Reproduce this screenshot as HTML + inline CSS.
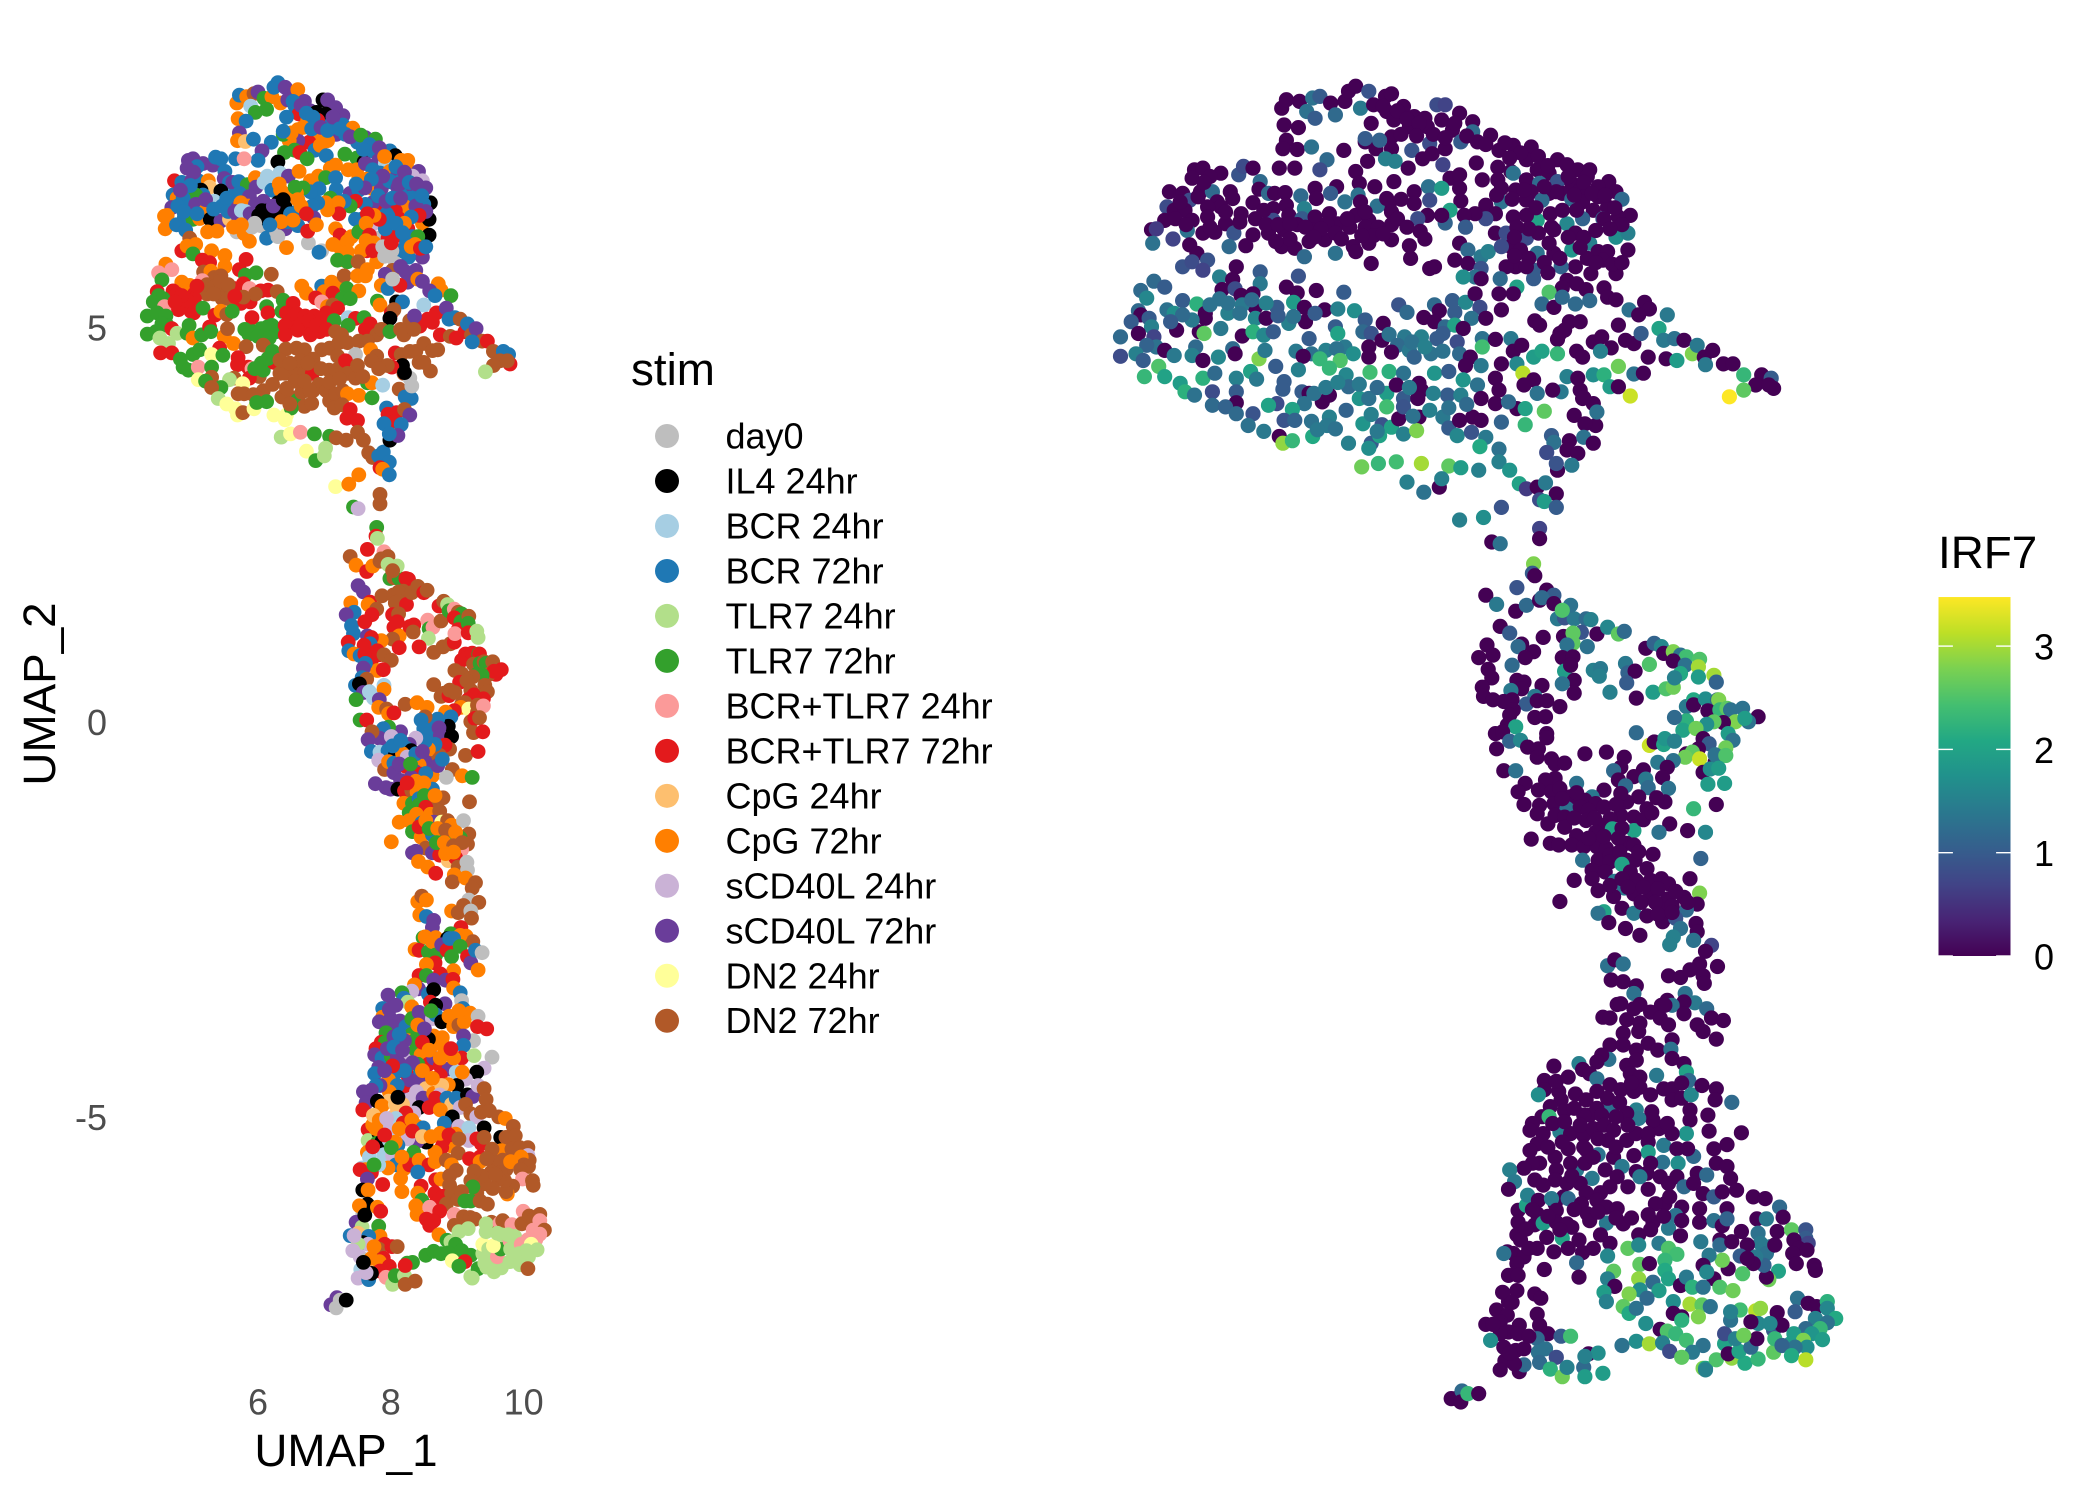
<!DOCTYPE html>
<html lang="en">
<head>
<meta charset="utf-8">
<title>UMAP by stim and IRF7</title>
<style>
html,body{margin:0;padding:0;background:#fff;width:2100px;height:1500px;overflow:hidden}
svg{display:block;font-family:"Liberation Sans",sans-serif}
</style>
</head>
<body>
<svg id="figure" xmlns="http://www.w3.org/2000/svg" width="2100" height="1500" viewBox="0 0 2100 1500">
<defs>
<linearGradient id="viridisRamp" x1="0" y1="1" x2="0" y2="0"></linearGradient>
</defs>
<rect width="2100" height="1500" fill="#fff"/>
<g id="leftPanel"></g>
<g id="rightPanel"></g>
<g id="axes"></g>
<text x="346" y="1466" text-anchor="middle" font-size="45.8" fill="#000">UMAP_1</text>
<text transform="translate(55,694) rotate(-90)" text-anchor="middle" font-size="45.8" fill="#000">UMAP_2</text>
<g id="stimLegend">
<text x="631" y="385" font-size="45.8" fill="#000">stim</text>
</g>
<g id="irfLegend">
<text x="1938" y="568" font-size="45.8" fill="#000">IRF7</text>
</g>
</svg>
<script>
const stimLabels = ["day0","IL4 24hr","BCR 24hr","BCR 72hr","TLR7 24hr","TLR7 72hr","BCR+TLR7 24hr","BCR+TLR7 72hr","CpG 24hr","CpG 72hr","sCD40L 24hr","sCD40L 72hr","DN2 24hr","DN2 72hr"];
const stimColors = ["#BEBEBE","#000000","#A6CEE3","#1F78B4","#B2DF8A","#33A02C","#FB9A99","#E31A1C","#FDBF6F","#FF7F00","#CAB2D6","#6A3D9A","#FFFF99","#B15928"];
const xTicks = [6,8,10];
const yTicks = [5,0,-5];
const irfTicks = [0,1,2,3];
const irfMax = 3.475;
const viridisStops = ["#440154","#482475","#414487","#355F8D","#2A788E","#21918C","#22A884","#44BF70","#7AD151","#BDDF26","#FDE725"];

/* each cell: [UMAP_1, UMAP_2, stim index, IRF7 expression] */
const capTop = [
[5.65,7.93,9,0],[5.69,8.03,3,0],[5.80,8.01,9,0],[5.91,8.05,13,1.3],[5.97,8.07,11,1],[6.06,7.99,5,0],[6.18,8.01,9,0],[6.21,8.13,3,0],[6.27,8.19,3,0],[6.38,8.13,11,.9],[6.31,7.93,9,1.4],[6.42,7.97,11,0],[6.52,8.07,11,0],[6.57,8.10,9,0],[6.67,7.95,11,0],[6.53,7.89,3,0],[6.59,7.79,7,0],[5.86,7.89,2,1.3],[5.93,7.81,5,1],[6.10,7.85,5,1.2],[5.67,7.73,9,0],[5.79,7.70,3,0],[6.40,7.75,3,0],[6.76,7.83,11,0],[6.85,7.81,1,0],[6.95,7.97,1,.8],[7.02,7.97,11,.7],[7.14,7.87,11,0],[7.25,7.77,11,0],[6.99,7.79,1,0],[7.08,7.67,3,0],[6.87,7.71,7,0],[6.72,7.71,9,0],[6.57,7.59,9,0],[7.25,7.65,3,1.2],[7.40,7.61,9,0],[7.15,7.53,11,1],[7.29,7.53,3,0],[7.47,7.43,3,0],[7.59,7.49,11,0],[7.74,7.47,5,0],[6.89,7.51,9,.8],[7.02,7.45,9,0],[6.74,7.43,7,.9],[6.57,7.45,11,0],[6.44,7.45,9,0],[6.35,7.53,5,0],[6.47,7.55,9,1.1],[6.35,7.57,3,1],[5.69,7.55,11,0],[5.66,7.45,9,0],[5.78,7.44,8,0],[5.90,7.47,3,1.3],[6.17,7.43,3,0],[6.03,7.32,11,1.2],[5.97,7.20,3,.8],[5.63,7.22,3,0],[5.76,7.22,6,0],[6.37,7.30,5,0],[6.52,7.33,5,1.5],[6.60,7.30,7,1.5],[6.83,7.33,3,0],[6.91,7.39,9,0],[7.00,7.26,3,.7],[7.28,7.28,5,0],[6.71,7.22,5,0],[7.46,7.23,5,0],[7.57,7.18,1,0],[7.70,7.32,3,0],[7.96,7.32,3,0],[8.04,7.26,1,0],[7.79,7.20,11,0],[7.89,7.16,2,0],[8.13,7.20,9,0],[8.23,7.20,9,0],[6.27,7.18,1,0],[6.30,7.04,2,0],[6.43,7.00,11,0],[6.59,7.06,9,0],[6.76,6.94,9,0],[7.06,7.10,9,0],[7.14,7.14,9,0],[7.33,7.08,9,0],[7.46,7.08,9,0],[7.59,7.16,11,1.3],[7.70,7.08,3,0],[7.81,7.04,3,1.2],[7.96,7.06,9,.9],[8.08,7.04,11,0],[8.21,7.12,9,0],[8.39,7.06,11,0],[8.30,7.00,10,0],[8.15,6.96,3,0],[8.00,6.92,3,0],[7.89,6.92,3,0],[7.74,6.94,9,0],[7.61,6.96,9,0],[7.49,6.98,9,0],[6.88,7.00,9,1.3],[6.99,6.98,5,1.9],[7.14,6.98,3,0],[6.89,6.84,3,.8],[7.15,6.83,3,0],[7.06,6.72,5,2],[7.36,6.78,11,0],[7.49,6.82,3,1.3],[7.70,6.84,9,0],[7.83,6.84,11,1.2],[7.95,6.94,3,0],[8.08,6.85,11,1.2],[8.17,6.82,3,0],[8.30,6.88,11,0],[8.45,6.94,10,0],[8.50,6.85,11,1.2],[8.38,6.76,3,0],[8.26,6.72,3,0],[8.57,6.66,1,0],[8.47,6.64,3,0],[8.34,6.62,3,1],[8.17,6.62,9,1.1],[8.04,6.56,7,1.6],[7.79,6.60,7,2],[7.91,6.52,3,0],[7.70,6.66,11,0],[7.59,6.64,3,0],[7.44,6.68,7,0],[7.36,6.62,5,.8],[7.27,6.68,3,0],[7.18,6.66,9,0],[7.19,6.52,7,1],[7.02,6.57,9,1.1],[6.99,6.66,9,0],[6.87,6.66,3,0],[6.79,6.62,3,.8],[6.81,6.47,11,0],[6.76,6.80,3,0],[6.65,6.85,5,0],[6.55,6.78,9,0]
];
const capLeft = [
[4.92,7.20,11,0],[4.99,7.22,11,0],[5.14,7.16,11,0],[5.05,7.12,3,0],[4.90,7.10,11,0],[5.29,7.14,11,.9],[5.33,7.24,3,.8],[5.41,7.22,3,0],[5.47,7.06,3,1.2],[5.46,6.97,11,0],[5.54,6.92,3,1.2],[5.59,6.92,11,0],[5.68,6.93,3,0],[5.81,6.89,5,1.2],[5.93,6.98,9,0],[5.94,6.86,11,0],[6.11,7.00,2,0],[6.06,6.92,2,1],[6.18,6.82,3,1.3],[6.29,6.90,9,1.3],[6.31,6.82,9,0],[6.45,6.77,9,1.3],[6.53,6.86,5,0],[4.71,6.94,7,0],[4.82,6.92,3,0],[4.97,6.94,11,0],[5.07,6.94,3,1.2],[5.22,6.94,9,0],[5.24,6.86,8,0],[4.88,6.84,3,.8],[4.69,6.76,3,.8],[5.11,6.82,1,0],[5.14,6.76,3,0],[5.03,6.76,5,0],[5.41,6.81,1,0],[5.58,6.74,3,0],[5.69,6.78,3,0],[5.84,6.74,11,1.5],[4.75,6.72,9,0],[4.84,6.72,3,0],[4.67,6.60,11,0],[4.90,6.60,3,0],[5.03,6.64,11,0],[5.18,6.56,9,0],[5.31,6.68,2,0],[5.43,6.62,3,0],[5.58,6.60,11,.8],[5.71,6.66,9,0],[5.82,6.62,9,1],[5.93,6.64,11,0],[6.05,6.68,11,0],[6.12,6.56,1,0],[6.27,6.66,1,0],[6.38,6.60,1,0],[6.57,6.70,9,0],[6.57,6.55,3,0],[4.56,6.49,9,0],[4.60,6.50,9,.6],[4.86,6.48,3,1.3],[4.99,6.45,5,0],[5.09,6.46,9,0],[5.25,6.45,1,.9],[5.41,6.43,11,0],[5.54,6.45,8,0],[5.67,6.49,11,0],[5.78,6.55,2,0],[5.90,6.49,0,0],[6.03,6.56,1,0],[6.22,6.52,1,0],[6.35,6.52,1,0],[6.46,6.52,3,0],[4.57,6.33,9,1.3],[4.74,6.38,3,.7],[4.88,6.31,3,0],[5.21,6.29,9,1.2],[5.65,6.29,0,0],[5.76,6.27,9,0],[5.88,6.35,0,0],[6.01,6.37,0,0],[6.10,6.21,3,1.3],[6.25,6.29,0,0],[6.38,6.33,11,0],[6.57,6.37,3,0],[6.27,6.23,0,0],[5.84,6.17,9,1.2],[6.40,6.09,9,0],[6.73,6.15,0,0],[6.93,6.05,0,0],[6.89,6.03,3,0],[4.94,6.21,13,0],[5.03,6.13,9,.9],[4.82,6.05,7,.9],[4.90,6.11,9,.8],[4.99,6.01,5,.7],[5.27,6.05,9,0],[5.35,6.30,9,0]
];
const capRight = [
[7.14,6.33,9,0],[7.21,6.25,7,1.2],[7.10,6.13,9,0],[7.21,6.09,9,0],[7.32,6.17,9,1.4],[7.38,6.23,9,1.5],[7.44,6.45,3,0],[7.53,6.45,3,.8],[7.70,6.39,10,.8],[7.57,6.29,9,0],[7.49,6.29,5,.8],[7.79,6.21,0,1.3],[7.93,6.21,7,0],[8.08,6.25,7,1.8],[8.23,6.33,7,1.5],[8.30,6.23,3,0],[8.45,6.40,9,1.7],[8.55,6.45,1,1.5],[8.55,6.25,1,0],[8.38,6.23,5,0],[8.21,6.15,3,0],[8.11,6.05,3,0],[7.99,6.05,0,1.1],[7.76,6.01,9,1],[7.61,6.05,7,0],[7.53,6.05,9,0],[7.89,6.33,3,0],[8.11,6.45,7,0],[7.93,6.49,3,0],[8.34,6.13,9,0],[8.45,5.97,11,0],[8.24,5.97,3,0],[8.04,5.89,0,0],[7.32,6.03,9,.9],[7.27,5.93,9,1.3],[7.17,5.93,5,1.7],[7.32,5.91,5,0],[7.48,5.91,13,1.2],[7.62,5.81,9,2],[7.76,5.91,9,1],[8.35,6.62,11,0]
];
const capDense = [
[6.50,7.95,3,0],[6.62,7.90,11,0],[6.70,7.80,3,0],[6.80,7.75,3,0],[6.65,7.62,9,0],[6.78,7.60,3,0],[6.92,7.62,11,0],[7.02,7.58,3,0],[7.10,7.75,11,0],[7.20,7.60,3,0],[7.36,7.50,11,0],[7.52,7.52,5,0],[7.65,7.40,3,0],[7.56,7.34,3,0],[7.80,7.36,11,0],[7.88,7.25,9,0],[8.05,7.12,3,0],[8.18,7.05,11,0],[8.10,6.90,11,0],[8.25,6.92,3,0],[8.36,6.90,11,0],[7.85,7.00,11,0],[7.68,6.96,3,0],[7.58,6.85,11,0],[7.45,6.90,3,0],[7.78,6.75,3,0],[7.90,6.68,11,0],[8.00,6.72,3,0],[8.12,6.72,11,0],[8.44,6.75,3,0],[8.50,6.55,11,0],[8.40,6.50,7,0],[8.28,6.48,3,0],[8.18,6.40,9,0],[8.05,6.40,3,0],[7.80,6.45,7,0],[7.72,6.50,9,0],[7.62,6.52,7,0],[7.60,6.40,9,0],[7.65,6.25,7,0],[7.72,6.15,9,0],[7.60,6.18,9,0],[7.70,6.05,7,0],[7.85,6.10,0,0],[7.98,6.15,7,0],[8.15,6.28,3,0],[8.28,6.10,9,0],[8.42,6.08,7,0],[8.50,6.10,3,0],[8.00,5.80,13,0],[8.12,5.85,11,0],[8.20,5.78,11,0],[8.35,5.80,11,0],[7.88,5.98,0,0],[5.00,7.05,11,0],[4.95,6.88,3,0],[4.80,6.82,11,0],[4.76,6.62,3,0],[4.85,6.55,3,0],[5.05,6.52,3,0],[5.18,6.70,11,0],[5.30,6.58,3,0],[5.50,6.72,3,0],[5.52,6.55,3,0],[5.62,6.55,11,0],[5.72,6.56,2,0],[5.85,6.52,11,0],[5.98,6.50,1,0],[6.10,6.45,1,0],[6.20,6.62,11,0],[6.35,6.70,1,0],[6.42,6.42,3,0],[6.50,6.44,9,0],[6.32,6.42,9,0],[6.15,6.38,3,0],[5.92,6.40,0,0],[5.72,6.38,9,0],[5.60,6.35,9,0],[6.62,6.62,9,0],[6.70,6.52,7,0],[6.72,6.30,7,0],[6.85,6.38,9,0]
];
const lobeUpper = [
[4.58,5.88,9,1.2],[4.47,5.77,6,1.2],[4.67,5.81,6,1],[4.52,5.68,5,1.6],[5.13,5.93,7,1.5],[5.24,5.90,7,0],[5.47,5.99,9,1],[5.47,5.85,9,1.4],[5.79,5.94,7,.9],[5.15,5.78,13,0],[5.26,5.79,9,.8],[5.31,5.71,13,0],[5.41,5.73,13,0],[5.69,5.81,7,0],[5.78,5.74,5,0],[5.94,5.77,5,0],[6.17,5.75,13,1],[4.82,5.65,9,1],[4.94,5.61,9,2.2],[5.13,5.67,6,1.3],[5.75,5.63,7,1.9],[6.63,5.60,9,.9],[6.93,5.60,3,1.2],[7.08,5.65,9,1],[7.19,5.63,9,1.6],[7.27,5.73,13,0],[7.47,5.73,9,0],[7.89,5.75,11,2.5],[7.59,5.73,9,0],[4.45,5.53,7,1.2],[4.47,5.48,5,0],[4.69,5.54,7,1.3],[4.75,5.50,7,1.7],[5.01,5.50,7,0],[5.20,5.50,13,1.5],[5.43,5.57,13,0],[5.61,5.57,7,1],[5.84,5.57,6,0],[6.01,5.54,7,0],[6.12,5.55,7,1.5],[6.26,5.53,13,1.7],[6.70,5.51,9,1.2],[6.97,5.53,9,0],[7.10,5.51,7,1],[7.31,5.57,5,.8],[7.49,5.54,9,0],[7.83,5.61,9,1.2],[7.93,5.57,3,0],[8.23,5.65,11,1.2],[8.11,5.61,7,1.2],[8.00,5.69,0,1.2],[8.38,5.69,9,0],[8.45,5.66,11,0],[8.69,5.63,9,0],[8.73,5.55,9,0],[4.39,5.40,5,1],[4.54,5.44,5,1],[4.56,5.34,6,1.5],[4.77,5.30,7,0],[5.01,5.44,7,0],[5.43,5.44,13,1.6],[5.52,5.44,13,0],[5.71,5.38,7,1.5],[5.85,5.40,7,0],[5.93,5.50,13,1],[5.75,5.46,13,1.3],[6.35,5.42,5,1],[6.50,5.38,7,0],[6.84,5.45,7,0],[6.93,5.40,6,0],[7.24,5.44,5,1.3],[7.36,5.44,5,0],[7.77,5.41,5,0],[8.06,5.40,1,0],[8.15,5.40,3,0],[8.47,5.36,2,0],[8.56,5.54,11,1.3],[8.88,5.48,5,1.4],[8.64,5.48,3,0],[4.30,5.22,5,1.2],[4.45,5.26,5,0],[4.58,5.22,5,.7],[4.96,5.28,7,0],[5.00,5.26,7,2.6],[5.14,5.32,5,1.4],[5.32,5.23,7,0],[5.41,5.28,9,2.2],[5.50,5.24,13,1.6],[5.58,5.28,5,1],[6.10,5.34,5,1],[6.12,5.26,7,2],[5.88,5.20,7,1],[6.33,5.28,5,1.2],[6.40,5.26,7,.9],[6.49,5.18,7,0],[7.02,5.34,9,1.2],[7.10,5.36,13,2],[7.17,5.32,7,0],[7.00,5.26,7,1],[6.95,5.20,7,1],[7.12,5.16,5,.8],[7.33,5.20,2,1.3],[7.44,5.19,7,0],[7.57,5.20,5,1.4],[7.81,5.36,9,0],[7.98,5.26,7,0],[8.26,5.16,13,0],[8.41,5.09,7,0],[8.53,5.18,7,0],[8.60,5.14,7,0],[8.66,5.26,7,1],[8.81,5.32,11,2],[8.85,5.18,3,1.4],[8.94,5.20,3,1.3],[9.02,5.18,13,0],[8.02,5.30,13,0],[8.33,5.22,11,0],[7.96,5.19,1,0],
[5.20,5.62,13,1.3],[5.32,5.60,13,1.4],[5.40,5.66,13,1.2],[5.52,5.62,13,1.5],[5.30,5.50,13,1.3],[5.62,5.47,7,1],[5.05,5.60,7,1.3],[4.90,5.42,7,1.4],[4.82,5.48,7,1.2],[4.72,5.40,7,1],[4.60,5.10,5,1.3],[4.52,5.12,5,1.1],[6.55,5.25,7,1.3],[6.68,5.22,7,1.4],[6.82,5.22,7,1.5],[6.62,5.12,7,1.2],[6.72,5.06,7,1.4],[6.90,5.02,7,1.3],[5.90,5.02,5,1.3],[6.02,5.06,5,1.5],[6.18,5.10,5,1.4]
];
const lobeLower = [
[4.30,4.99,5,.8],[4.43,5.02,5,1.5],[4.49,4.94,4,1],[4.67,5.06,7,0],[4.75,5.00,4,1.4],[4.93,5.10,5,1.2],[4.90,5.00,5,1.5],[4.99,4.94,9,0],[5.12,4.98,5,1.6],[5.24,5.08,7,1.2],[5.26,5.02,5,0],[5.46,4.96,9,2.8],[5.51,5.06,13,1.4],[5.77,5.05,5,1.4],[5.83,4.99,5,0],[5.97,4.96,5,2.3],[6.11,5.08,5,1.3],[6.25,5.02,5,1.7],[6.38,5.10,7,0],[6.38,4.98,7,0],[6.14,4.94,5,2.5],[6.57,5.04,7,0],[6.74,5.16,7,1.3],[6.76,4.98,7,1.1],[6.85,5.10,7,1.5],[7.00,5.05,7,1.3],[7.14,5.02,13,1.2],[7.33,5.10,5,2.4],[7.23,4.98,13,0],[7.59,5.05,7,0],[7.66,5.12,7,0],[7.76,4.98,13,1.9],[7.83,5.05,13,2],[7.96,5.02,5,2.3],[8.12,5.05,13,0],[8.17,4.98,13,0],[8.32,5.05,13,1.5],[8.72,4.98,7,0],[8.87,4.96,13,0],[8.96,4.94,7,1.9],[9.09,5.02,7,2.8],[9.13,5.12,3,1.4],[9.19,4.98,13,0],[9.26,5.06,11,0],[9.35,4.90,13,0],
[4.62,4.87,4,2.5],[4.50,4.75,7,2.3],[4.67,4.75,7,2],[4.80,4.67,5,1.9],[4.99,4.73,5,2.2],[5.09,4.79,5,1.2],[5.39,4.81,7,2],[5.27,4.73,12,1.5],[5.44,4.72,5,1.4],[5.60,4.87,9,1],[5.79,4.83,13,1.5],[5.67,4.69,7,1],[6.05,4.85,13,2.3],[6.19,4.77,5,1.6],[6.39,4.80,13,2.4],[6.55,4.81,13,2.2],[6.67,4.79,13,1.3],[6.93,4.79,13,1.8],[6.80,4.67,13,0],[7.05,4.81,13,1],[7.19,4.88,13,0],[7.32,4.88,13,1.4],[7.49,4.90,13,0],[7.62,4.90,13,1.6],[7.67,4.79,9,3.1],[7.44,4.73,0,0],[7.17,4.71,13,1.8],[7.76,4.71,13,0],[8.04,4.75,7,1.5],[8.13,4.73,13,0],[8.26,4.77,13,1.7],[8.35,4.77,13,2.2],[8.47,4.87,13,2.7],[8.60,4.78,13,1.3],[8.68,4.79,13,0],[9.20,4.89,3,1.4],[9.43,4.90,7,0],[9.52,4.77,13,2.3],[9.67,4.77,3,0],[9.75,4.73,3,1],[9.62,4.65,13,0],[9.77,4.61,7,0],[9.73,4.65,13,0],[9.52,4.59,13,2.6],[9.40,4.51,4,3.6],[8.57,4.52,13,3.2],[8.40,4.63,13,1.9],[8.47,4.63,13,0],[8.15,4.59,1,0],[7.99,4.57,7,1.4],[7.92,4.59,13,0],
[4.84,4.57,5,2.2],[4.92,4.53,5,1.3],[5.07,4.57,6,.8],[5.27,4.57,5,1],[5.27,4.44,13,0],[5.07,4.41,12,1.2],[5.18,4.39,5,1.1],[5.66,4.60,7,1],[5.82,4.57,7,1],[5.88,4.55,6,0],[5.99,4.45,13,0],[6.05,4.53,5,0],[5.84,4.43,7,1.3],[5.61,4.43,13,.8],[5.54,4.41,4,2],[5.41,4.31,5,.9],[5.74,4.36,12,2],[6.21,4.63,7,1.2],[6.30,4.49,13,1.8],[6.38,4.49,13,1.3],[6.53,4.55,13,1.9],[6.61,4.65,13,0],[6.67,4.49,13,1],[6.82,4.59,13,0],[6.79,4.49,7,0],[7.04,4.53,13,1],[7.15,4.53,13,1.5],[7.29,4.65,7,1.3],[7.32,4.49,13,0],[7.44,4.43,13,0],[7.47,4.59,13,0],[7.68,4.65,13,0],[7.79,4.55,13,1.3],[7.62,4.37,5,0],[7.69,4.37,9,2],[7.85,4.34,2,2.6],[8.10,4.29,13,0],[8.17,4.49,13,0],[8.26,4.43,0,0],[8.18,4.50,1,0],
[5.27,4.31,13,1.2],[5.37,4.17,4,1.3],[5.50,4.10,12,1.4],[5.67,4.23,13,.9],[5.76,4.23,13,1.1],[6.05,4.27,13,1.5],[6.03,4.17,13,1.4],[6.10,4.13,5,1.3],[6.19,4.35,13,1.1],[6.33,4.19,13,1.8],[6.49,4.18,13,.9],[6.57,4.15,5,2],[6.63,4.25,13,0],[6.53,4.39,13,2.4],[6.67,4.39,13,.9],[6.67,4.07,13,1.5],[6.80,4.27,13,0],[6.78,4.11,13,2.8],[6.89,4.35,13,1.5],[7.00,4.27,13,1.4],[7.05,4.14,13,1],[7.14,4.23,13,0],[7.25,4.27,13,0],[7.32,4.23,9,0],[7.12,4.05,13,1.6],[7.24,4.09,13,.9],[7.36,4.03,7,1.4],[7.49,4.21,9,1.1],[7.69,4.18,5,2.3],[8.28,4.17,3,0],[8.19,4.19,3,0],[8.29,4.33,0,1.3],
[5.63,4.04,12,0],[5.66,3.96,12,2.9],[5.74,3.99,13,2.3],[5.91,4.04,12,2.1],[6.21,3.96,12,1.5],[6.40,3.96,12,1],[6.47,4.05,5,2],[6.38,3.90,12,1.7],[7.31,3.92,7,2.1],[7.47,3.89,7,1.3],[7.47,3.74,13,1.5],[7.56,3.64,13,1.8],[6.32,3.68,4,2.7],[6.46,3.72,12,2.3],[6.61,3.74,6,2.4],[6.82,3.72,5,3],[7.05,3.69,5,2.6],[7.15,3.67,13,1.9],[7.30,3.64,13,1.5],[6.70,3.50,12,1.5],[6.84,3.38,5,1.3],[6.97,3.44,4,0],[6.99,3.54,4,1.5],[7.64,3.48,13,2],[7.70,3.42,13,.6],[7.79,3.44,3,0],[7.86,3.49,3,1.4],[7.95,3.36,3,0],[7.81,3.29,7,.8],[7.85,3.27,9,1.9],[7.95,3.20,3,1],[7.91,4.05,3,1],[7.93,3.97,7,1.3],[8.06,3.99,7,0],[8.04,3.88,7,0],[8.18,4.03,13,1.3],[8.26,3.96,11,0],[8.13,3.84,3,0],[7.87,3.85,3,.8],[7.96,3.64,1,0],[8.08,3.70,11,1.4],[7.95,3.72,3,.9],
[5.92,4.55,5,1.3],[6.02,4.62,5,1.4],[6.12,4.68,5,1.5],[6.30,4.66,13,1.4],[6.45,4.62,13,1.2],[6.72,4.62,13,1.4],[6.92,4.55,13,1.5],[6.40,4.30,13,1.5],[6.75,4.28,13,1.3],[6.45,4.10,13,1.4],[5.90,4.22,13,1.3],[5.95,4.12,5,1.4],[7.05,4.38,13,1.3],[7.20,4.42,13,1.2],[7.55,4.45,13,1.2]
];
const neckCells = [
[7.49,3.20,9,.9],[7.14,3.05,12,1.5],[7.34,3.08,9,1.7],[7.81,2.95,13,.7],[7.81,2.83,13,0],[7.41,2.79,5,0],[7.48,2.77,10,1.3],[7.76,2.53,5,2.8],[7.75,2.42,7,1],[7.77,2.39,4,0],[7.62,2.25,7,.9],[7.36,2.16,13,0],[7.45,2.05,9,1.4],[7.61,1.97,7,0],[7.70,2.04,9,1.2],[7.81,2.10,13,0],[7.87,2.22,6,0],[7.93,2.16,13,1],[7.83,2.13,13,1.2],[7.93,2.06,4,0],[7.48,1.79,11,0],[7.56,1.71,11,1],[7.37,1.57,9,0],[7.66,1.58,7,0],[7.84,1.66,13,0],[7.63,1.55,9,1.2],[8.01,1.67,13,0],[7.96,1.88,5,1.4],[8.02,1.89,13,.9],[8.10,1.88,5,1.4],[8.07,2.04,4,1.3],[8.0,1.98,13,2.5],[8.20,1.88,7,1.2],[8.24,1.87,7,1.5],[8.16,1.72,13,.9],[8.09,1.71,13,2.6],[8.09,1.59,13,2.6],[8.04,1.57,13,1.3],[8.21,1.55,7,1.3],[8.29,1.70,13,0],[8.38,1.78,13,1.6],[8.47,1.70,7,2.6],[8.52,1.73,13,1.2],
[7.76,1.49,13,0],[7.69,1.42,7,0],[7.42,1.45,3,0],[7.30,1.42,11,0],[8.0,1.42,7,0],[8.09,1.43,13,0],[7.38,1.28,3,0],[7.58,1.33,7,1.2],[7.41,1.18,3,0],[8.02,1.26,7,1.9],[8.07,1.33,7,0],[8.10,1.15,9,0],[8.0,1.11,13,1.3],[8.26,1.27,7,1.5],[8.32,1.29,7,1.4],[8.31,1.20,13,1.5],[8.53,1.35,6,1.4],[8.55,1.24,5,1.1],[8.61,1.26,6,0],[8.54,1.12,4,1],[8.40,1.01,7,1.5],[8.10,1.0,7,0],[7.83,1.09,9,0],[7.62,1.15,11,0],[7.68,1.13,7,0],[7.66,1.05,3,0],[7.57,1.03,7,1.4],[7.33,1.07,7,0],[7.34,.96,3,0],[7.42,.92,9,0],[7.51,.90,3,0],[7.58,.92,7,0],[7.77,.96,7,1.4],[7.70,.87,7,1],[7.79,.91,7,0],[7.87,.91,13,0],[7.98,.84,13,0],[7.77,.71,9,0],[7.86,.72,7,0],[7.59,.80,3,0],[7.56,.74,11,0],[7.54,.62,3,0],[7.61,.60,13,2],[7.87,.52,2,0],[7.87,.47,9,0],[7.44,.52,3,0],[7.50,.54,1,0],[7.56,.43,11,1.1],[7.65,.44,2,1.6],[7.45,.34,5,0],[7.71,.36,2,0],[7.80,.34,11,0],[7.79,.24,9,0],[7.51,.08,5,0],[7.61,.08,7,1.3],[7.91,.22,13,0],[7.94,.16,9,0],[8.02,.17,7,0],[8.19,.28,13,0],[8.37,.30,9,0],[8.62,.94,13,0],[8.76,1.01,13,1.9],[8.87,1.05,13,2.5],[8.93,1.07,7,2.7],[8.73,1.34,13,2.5],[8.70,1.53,7,0],[8.77,1.59,13,1.1],[8.83,1.55,4,1.6],[8.85,1.47,5,0],[8.93,1.49,6,2.8],[8.99,1.45,13,1.3],[9.04,1.43,5,2.4],[8.93,1.38,7,0],[9.03,1.33,5,1.3],[8.99,1.23,7,2.1],[8.94,1.18,6,1.5],[9.15,1.40,13,2.5],[9.14,1.31,5,3],[9.14,1.19,7,1.9],[9.27,1.21,4,3],[9.29,1.13,4,1.1],[9.04,.84,7,1.4],[9.10,.92,7,2.1],[9.10,.86,7,0],[9.20,.93,7,1.7],[9.30,.92,5,1.1],[9.31,.92,7,2.8],[9.22,.79,13,0],[9.32,.80,5,2.3],[9.38,.82,13,2.6],[9.41,.80,5,1.3],[9.51,.82,13,1.3],[9.64,.72,7,0],[9.56,.66,7,1.3],[9.45,.66,13,2.8],[9.53,.70,7,1.9],[9.35,.65,5,0],[9.27,.66,5,2.6],[9.21,.63,13,1.7],[9.04,.67,13,2.2],[8.94,.71,13,1.2],[9.01,.56,7,2],[9.12,.58,13,2.7],[8.62,.53,13,1.2],[8.73,.38,13,3.2],[8.77,.42,13,0],[8.85,.39,7,2],[8.86,.46,13,1.8],[8.94,.43,13,1.5],[9.18,.46,13,0],[9.23,.40,7,1],[9.39,.52,13,1.9],[9.43,.44,13,1.3],[9.37,.35,7,2.7],[9.14,.34,7,0],[9.04,.28,13,0],[9.09,.30,13,2.6],[9.03,.24,9,2.7],[9.15,.22,12,3.2],[9.28,.18,13,0],[9.28,.27,13,1.3],[9.37,.26,6,2.5]
];
const waistUpper = [
[8.93,.20,7,1.3],[8.80,.18,9,1.4],[8.88,.12,3,0],[9.18,.06,13,0],[9.24,.10,7,1.7],[9.31,.11,13,1.9],[9.22,-.08,13,1.9],[9.36,-.07,7,1.9],[8.84,.0,1,0],[8.68,.09,3,0],[8.60,.01,3,0],[8.52,.24,9,0],[8.49,.12,13,0],[8.43,.08,3,1.2],[8.47,-.03,3,0],[8.53,-.10,3,1.2],[8.70,-.02,11,1.4],[8.72,-.12,11,1.2],[8.89,-.13,1,1.3],[8.86,-.29,13,0],[8.79,-.24,7,0],[8.71,-.37,13,0],[8.64,-.23,3,0],[8.54,-.29,9,0],[8.49,-.19,3,0],[8.35,-.15,10,0],[8.25,-.23,11,1.4],[8.12,-.07,11,1.3],[7.94,-.01,5,0],[7.86,-.03,3,0],[7.80,-.15,11,0],[7.69,-.07,13,0],[7.63,-.17,11,0],[7.68,-.32,3,0],[7.91,-.17,11,0],[7.98,-.13,10,0],[8.07,-.23,2,0],[8.19,-.27,3,0],[8.28,-.31,1,0],[7.81,-.33,2,0],[7.93,-.31,3,0],[8.04,-.37,1,1.3],[7.79,-.43,10,0],[7.88,-.55,13,0],[7.94,-.45,9,0],[8.02,-.47,3,0],[8.15,-.35,9,0],[8.22,-.39,10,0],[8.20,-.51,7,0],[8.60,-.47,13,0],[8.49,-.45,11,0],[8.40,-.49,9,0],[8.33,-.57,11,0],[8.42,-.61,7,2],[8.28,-.65,11,0],[8.60,-.63,9,2],[8.90,-.55,13,0],[8.81,-.65,0,1.3],[9.05,-.63,9,0],[9.20,-.65,5,1.6],[9.10,-.37,13,2.3],[9.29,-.32,7,0],[8.02,-.59,11,0],[8.12,-.69,11,0],[7.74,-.73,11,0],[7.90,-.78,11,0],[7.97,-.80,11,0],[8.08,-.80,1,0],[8.18,-.82,7,0],[8.29,-.82,13,0],[8.37,-.84,9,0],[8.54,-.78,9,0],[8.60,-.80,3,0],[8.17,-.98,9,1.3],[8.30,-.98,5,0],[8.40,-.92,3,0],[8.54,-.98,11,0],[8.61,-.98,13,0],[8.76,-.91,13,0],[9.16,-.96,13,1.1],
[8.00,-.25,3,0],[8.12,-.18,3,0],[8.35,-.35,3,0],[8.45,-.32,11,0],[8.10,-.48,11,0],[8.27,-.48,5,0],[8.50,-.60,3,0],[8.35,-.70,9,0],[8.22,-.72,7,0],[8.47,-.72,9,0],[8.68,-.50,11,0],[8.75,-.42,3,0],[8.40,-1.00,5,0],[8.48,-.88,5,0],[8.64,-.88,9,0]
];
const waistLower = [
[8.50,-1.03,7,2],[8.25,-1.10,5,0],[8.36,-1.12,9,0],[8.57,-1.12,9,0],[8.71,-1.08,13,0],[8.10,-1.22,9,0],[8.25,-1.20,9,0],[8.44,-1.23,3,1.4],[8.52,-1.31,3,1.4],[8.62,-1.22,11,0],[8.74,-1.22,12,0],[8.83,-1.20,13,0],[8.89,-1.26,9,0],[9.07,-1.20,0,0],[9.15,-1.37,13,2.8],[8.30,-1.34,5,0],[8.43,-1.41,9,0],[8.60,-1.38,3,0],[8.74,-1.40,5,0],[8.88,-1.44,5,0],[9.02,-1.42,5,0],[9.13,-1.50,13,0],[7.98,-1.47,9,0],[8.50,-1.55,13,0],[8.60,-1.61,11,1.4],[8.71,-1.64,7,0],[8.85,-1.57,5,0],[9.04,-1.57,6,1.2],[8.35,-1.59,11,2],[8.30,-1.61,11,1.3],[8.39,-1.72,9,0],[8.53,-1.79,9,0],[8.65,-1.87,7,0],[8.84,-1.71,8,0],[8.95,-1.67,7,.9],[8.99,-1.79,13,1.3],[9.12,-1.73,0,0],[9.13,-1.83,0,0],[8.93,-1.89,9,1.5],[8.90,-1.98,13,1.5],[9.10,-1.93,9,1.3],[9.25,-1.99,13,.7],[9.20,-2.06,13,0],[9.15,-2.21,0,0],[9.30,-2.24,13,0],[8.38,-2.23,9,1.3],[8.44,-2.16,13,0],[8.51,-2.21,9,1.3],[8.89,-2.35,9,0],[8.99,-2.37,13,0],[9.07,-2.28,13,0],[9.18,-2.35,0,0],[9.19,-2.44,13,0],[8.41,-2.40,9,0],[8.51,-2.42,3,0],[8.62,-2.47,11,0],[8.60,-2.56,11,1.3],[9.03,-2.56,7,1.3],[9.11,-2.67,9,1.4],[9.21,-2.74,13,1.2],[8.46,-2.69,5,0],[8.49,-2.68,9,0],[8.65,-2.69,9,0],[8.88,-2.64,5,0],[8.83,-2.70,1,0],[9.02,-2.66,9,0],[8.92,-2.70,3,1.3],
[8.40,-1.28,7,0],[8.50,-1.20,9,0],[8.55,-1.30,5,0],[8.68,-1.30,9,0],[8.80,-1.32,13,0],[8.95,-1.35,9,0],[8.66,-1.48,5,0],[8.78,-1.48,9,0],[8.92,-1.52,13,0],[9.05,-1.48,13,0],[8.80,-1.62,9,0],[8.92,-1.60,9,0]
];
const baseTop = [
[8.34,-2.84,9,0],[8.40,-2.85,7,0],[8.54,-2.87,5,0],[8.60,-2.74,9,0],[8.65,-2.91,5,0],[8.64,-3.01,7,0],[8.74,-2.78,11,0],[8.82,-2.85,7,0],[8.86,-2.70,3,0],[8.89,-2.93,5,0],[9.02,-2.80,5,0],[9.13,-2.93,7,0],[9.18,-3.01,11,0],[9.25,-2.85,3,0],[9.35,-2.88,0,0],[9.29,-3.10,9,0],[8.51,-3.03,9,0],[8.92,-3.11,9,0],[8.40,-3.17,7,0],[8.51,-3.17,5,0],[8.72,-3.15,7,0],[8.62,-3.23,11,0],[8.80,-3.23,11,0],[8.91,-3.22,7,1.3],[8.39,-3.34,11,1.3],[8.33,-3.29,9,0],[8.29,-3.37,10,0],[8.14,-3.39,5,1.5],[7.93,-3.42,11,0],[8.17,-3.46,3,0],[8.23,-3.51,4,0],[8.29,-3.57,9,1.3],[8.54,-3.41,3,0],[8.62,-3.35,1,0],[8.92,-3.33,9,0],[9.02,-3.39,3,0],[9.04,-3.49,0,2],[8.79,-3.53,11,1.4],[8.57,-3.51,7,0],[8.65,-3.55,1,0],[7.85,-3.59,3,0],[7.85,-3.70,9,0],[7.80,-3.76,11,1.7],[7.97,-3.72,11,0],[8.11,-3.75,11,0],[7.99,-3.82,11,0],[8.20,-3.82,3,0],[8.29,-3.72,5,0],[8.40,-3.64,11,0],[8.49,-3.70,11,0],[8.60,-3.72,10,0],[8.65,-3.67,3,0],[8.74,-3.76,1,0],[8.85,-3.69,9,0],[8.92,-3.69,9,0],[8.92,-3.82,9,0],[9.00,-3.80,13,0],[9.06,-3.59,3,1.2],[9.08,-3.76,9,1.6],[9.17,-3.65,9,0],[9.29,-3.69,0,0],[9.28,-3.82,7,0],[9.42,-3.85,7,1.2],[9.22,-4.0,0,0],[9.07,-3.94,11,0],[9.07,-4.06,3,0],[9.04,-4.22,7,1.8],[9.23,-4.19,4,0],[9.50,-4.21,0,0],[8.81,-4.16,9,0],[8.76,-4.06,9,0],[8.75,-3.96,9,0],[8.62,-3.94,9,1.5],[8.64,-4.04,9,1.4],[8.54,-3.98,1,0],[8.41,-3.90,3,1.3],[8.29,-3.92,5,0],[8.23,-4.0,9,0],[8.33,-4.0,5,0],[8.18,-4.0,11,0],[7.90,-3.90,5,0],[7.83,-4.02,7,0],[7.89,-4.02,5,2.3],[7.75,-4.10,7,0],[7.73,-4.18,11,0],[7.84,-4.22,3,0],[7.98,-4.20,5,1.5],[8.07,-4.22,11,0],[8.18,-4.24,11,0],[8.26,-4.16,10,0],[8.35,-4.12,5,0],[8.43,-4.18,9,0],[8.54,-4.30,7,0],[8.62,-4.22,11,0],[8.72,-4.32,7,0],[8.85,-4.36,11,1.4],[8.96,-4.40,2,0],[8.72,-4.44,7,1.9],[9.38,-4.35,10,0],[9.27,-4.40,1,0],[9.10,-4.49,10,1.2],[8.97,-4.57,1,1.7],[8.84,-4.56,9,1.3],[8.30,-4.47,3,1.3],[8.20,-4.41,7,0],[8.05,-4.40,3,0],[7.94,-4.50,9,0],[7.79,-4.34,11,0],[7.73,-4.42,3,0],[8.43,-4.50,11,0],[8.50,-4.61,8,1.4],[8.12,-4.65,11,1.4],[8.25,-4.75,10,1.4],[8.19,-4.57,7,0],[8.26,-4.50,11,0],[8.07,-4.57,3,0],[7.95,-4.65,9,0],[7.94,-4.77,8,0],[7.81,-4.57,11,0],[7.75,-4.57,3,0],[7.68,-4.63,11,0],[7.56,-4.65,11,1.5],[7.60,-4.79,11,1.4],[7.55,-4.88,7,0],[7.77,-4.77,1,0],[7.84,-4.83,9,0],[8.04,-4.81,8,0],[8.15,-4.81,8,0],[8.36,-4.65,10,0],[8.46,-4.73,11,0],[8.62,-4.67,9,0],[8.74,-4.57,8,0],[8.71,-4.69,10,0],[8.65,-4.73,7,1.4],[8.82,-4.73,3,0],[8.89,-4.81,8,0],[8.96,-4.73,3,0],[9.02,-4.85,10,1.2],[9.13,-4.69,1,0],[9.21,-4.71,11,1.2],[9.29,-4.57,10,0],[9.38,-4.61,13,0],[9.41,-4.75,13,0],[9.10,-4.81,13,0],[9.18,-4.93,13,0],[9.27,-4.97,10,1],[9.34,-4.91,13,0],[9.46,-4.89,13,0],[9.60,-4.97,13,0],[9.70,-4.99,9,0],[9.82,-5.09,13,1.2],
[7.95,-3.60,11,0],[8.05,-3.55,11,0],[8.02,-3.95,11,0],[8.10,-3.92,3,0],[7.92,-4.10,11,0],[8.02,-4.08,3,0],[8.15,-4.12,11,0],[8.38,-3.80,9,0],[8.48,-3.85,11,0],[8.58,-3.62,5,0],[8.45,-4.02,7,0],[8.55,-4.12,9,0],[8.38,-4.30,5,0],[8.30,-4.28,11,0],[8.18,-4.38,3,0],[8.45,-4.38,9,0],[8.00,-4.32,7,0],[7.88,-4.38,11,0],[8.60,-4.48,9,0],[8.72,-4.22,9,0],[8.92,-4.22,9,0],[9.05,-4.40,9,0],[8.88,-4.10,7,0],[9.00,-3.62,9,0],[8.08,-4.72,1,0],[8.40,-4.85,1,0],[8.55,-4.85,7,0],[8.32,-4.92,10,0],[8.20,-4.92,7,0],[8.72,-4.88,9,0]
];
const baseMiddle = [
[8.86,-5.05,7,0],[8.90,-4.97,1,0],[8.78,-5.05,3,0],[9.00,-5.09,10,0],[9.15,-5.11,2,0],[9.38,-5.11,1,0],[9.63,-5.23,1,0],[9.71,-5.23,13,1.4],[9.85,-5.21,13,0],[9.15,-5.27,10,0],[9.27,-5.25,7,1.3],[9.34,-5.31,7,0],[9.38,-5.23,13,1.1],[8.95,-5.19,9,1.3],[8.89,-5.34,9,1.4],[8.76,-5.27,7,0],[8.74,-5.36,7,0],[8.64,-5.42,9,0],[8.99,-5.43,13,0],[9.16,-5.50,7,1.4],[9.32,-5.48,7,0],[9.32,-5.54,9,1.2],[9.64,-5.40,9,1.3],[9.66,-5.52,13,1.4],[9.80,-5.38,13,0],[9.92,-5.36,13,2.6],[10.04,-5.36,13,.9],[10.04,-5.46,10,1],[10.06,-5.52,13,.7],[9.94,-5.48,9,0],[9.98,-5.58,13,0],[10.05,-5.60,13,0],[9.55,-5.54,13,0],[9.74,-5.56,13,1.4],[9.71,-5.64,13,1.3],[9.78,-5.54,9,0],[9.93,-5.64,13,0],[9.96,-5.76,6,0],[10.11,-5.78,13,0],[10.12,-5.84,13,0],[9.81,-5.85,13,2],[9.73,-5.95,9,2.7],[9.71,-5.92,13,0],[9.69,-5.78,13,1.1],[9.62,-5.68,13,1.4],[9.49,-5.67,13,1],[9.60,-5.76,13,0],[9.51,-5.88,13,2.5],[9.39,-5.82,13,0],[9.34,-5.72,13,2.7],[9.23,-5.66,13,1.4],[9.18,-5.78,13,0],[9.27,-5.94,13,0],[9.21,-5.86,5,1.6],
[7.63,-5.13,7,0],[7.70,-5.07,9,2],[7.71,-4.95,8,1.5],[7.80,-5.01,9,0],[7.94,-5.05,9,0],[8.01,-4.97,8,0],[8.05,-4.99,2,1.2],[7.91,-4.99,10,1.4],[8.16,-5.05,7,0],[8.29,-5.01,9,0],[8.37,-5.09,9,0],[8.46,-5.11,3,0],[8.51,-5.29,1,0],[8.37,-5.28,11,1.4],[8.21,-5.17,9,0],[8.23,-5.25,10,0],[8.32,-5.42,5,0],[7.63,-5.27,4,0],[7.79,-5.17,1,0],[7.77,-5.30,5,0],[7.84,-5.28,1,1.9],[7.95,-5.13,10,0],[7.95,-5.27,2,0],[8.08,-5.33,3,0],[8.04,-5.29,9,0],[7.62,-5.42,9,0],[7.65,-5.48,2,0],[7.87,-5.45,2,0],[8.0,-5.46,10,2],[8.05,-5.58,3,0],[7.93,-5.62,9,0],[7.79,-5.58,2,0],[8.17,-5.63,9,0],[8.26,-5.58,7,0],[8.12,-5.75,9,1.2],[7.54,-5.62,2,0],[7.59,-5.64,9,0],[7.51,-5.64,7,1.3],[7.68,-5.68,7,0],[7.62,-5.76,11,0],[7.85,-5.83,7,0],[8.14,-5.92,9,0],[7.55,-5.90,1,0],[7.63,-5.90,9,0],[7.62,-6.08,1,0],[7.77,-6.12,9,0],[7.82,-6.17,7,0],[7.55,-6.21,0,0],[7.45,-6.31,11,0],[7.54,-6.37,4,0],[7.36,-6.48,3,0],[7.48,-6.45,8,0],[7.79,-6.36,5,0],[7.81,-6.49,9,0],[7.88,-6.59,7,0],[7.64,-6.49,3,0],[7.55,-6.57,1,0],[7.63,-6.59,10,0],[7.48,-6.59,4,0],[7.40,-6.67,10,1.7],[7.79,-6.65,13,1.2],[7.51,-6.75,10,0],[7.61,-6.79,0,0],[7.68,-6.77,9,0],[7.86,-6.77,7,1.3],[7.80,-6.81,9,1.3],[7.81,-6.93,7,1.2],[7.52,-6.91,2,0],[7.48,-7.02,10,0],[7.64,-7.04,3,0],[7.68,-6.96,1,1.2],[7.99,-6.62,7,1],[8.07,-6.62,13,2.4],[7.95,-6.87,7,.8],[7.90,-7.01,6,2.2],[8.0,-7.10,4,2.7],[8.04,-6.99,5,1.5],[8.18,-6.99,4,1.2],[8.19,-7.10,13,1.9],[8.34,-7.06,13,1.9],[8.22,-6.83,5,0],[8.30,-6.82,5,1.7],[8.19,-6.86,7,1.5],[7.11,-7.36,0,0],[7.07,-7.36,11,0],[7.16,-7.27,11,1.2],[7.15,-7.40,0,0],[7.21,-7.30,0,2.3],[7.30,-7.30,1,0],
[7.75,-5.12,9,0],[7.88,-5.20,7,0],[8.10,-5.12,9,0],[8.30,-5.15,7,0],[8.45,-5.22,8,0],[7.70,-5.35,7,0],[7.72,-5.58,5,0],[7.98,-5.36,5,0],[8.14,-5.48,9,0],[8.40,-5.52,9,0],[8.72,-5.18,9,0],[8.85,-5.20,7,0],[8.58,-5.22,9,0],[9.00,-5.25,13,0],[9.50,-5.38,13,0],[9.42,-5.50,13,0],[9.55,-5.70,13,0],[7.50,-6.10,9,0],[7.58,-6.22,1,0],[7.42,-6.48,10,0],[7.60,-6.95,10,0],[7.56,-6.82,1,0],[7.72,-6.62,9,0]
];
const baseFoot = [
[8.55,-5.58,7,2.6],[8.64,-5.54,9,1.6],[8.81,-5.52,13,1.4],[8.89,-5.58,9,2.5],[8.96,-5.65,13,2.4],[8.38,-5.67,3,1.6],[8.65,-5.77,7,2.6],[8.73,-5.76,9,0],[8.86,-5.72,13,2.3],[8.43,-5.85,7,2.6],[8.38,-5.94,9,1.5],[8.44,-6.03,5,0],[8.35,-6.10,9,1.9],[8.37,-6.21,9,1.5],[8.64,-5.94,7,2.9],[8.86,-5.84,13,2.1],[8.76,-5.98,7,1.2],[8.89,-5.94,13,2],[8.65,-6.07,7,1.7],[8.56,-6.12,6,2.8],[8.81,-6.08,13,1.9],[8.99,-6.02,13,0],[9.04,-5.92,13,1.4],[9.09,-6.04,5,2.2],[9.18,-6.04,5,1.3],[9.32,-6.04,13,2.5],[9.43,-6.08,13,2.7],[8.71,-6.17,7,1.2],[8.51,-6.27,7,2.6],[8.56,-6.35,7,2.1],[8.62,-6.29,7,1.3],[8.93,-6.21,6,1.7],[9.07,-6.24,13,3],[9.17,-6.25,13,2.6],[9.24,-6.27,13,1.3],[8.93,-6.35,13,0],[9.00,-6.39,13,0],[9.14,-6.39,4,2.8],[9.0,-6.43,4,2.2],[8.70,-6.47,9,1.7],[8.82,-6.54,5,0],[8.88,-6.56,4,2.5],[8.95,-6.59,5,2.3],[8.50,-6.73,5,1.3],[8.62,-6.68,5,1.7],[8.73,-6.71,5,3],[8.84,-6.70,5,1.5],[9.04,-6.67,5,2.4],[8.90,-6.80,12,.8],[9.18,-6.73,5,1.3],[9.09,-6.81,7,1.4],[9.00,-6.87,5,2.6],[9.18,-7.0,4,2.8],[9.20,-7.0,4,2],[9.29,-6.90,5,2.5],[9.36,-6.71,4,2],[9.42,-6.88,4,2.9],[9.36,-6.59,12,.8],[9.39,-6.83,4,0],[9.53,-6.94,4,2.1],[9.64,-6.89,4,2.3],[9.48,-6.80,4,2],[9.45,-6.65,4,1.5],[9.58,-6.75,6,1.2],[9.63,-6.65,5,0],[9.52,-6.61,12,2.7],[9.49,-6.31,13,2.4],[9.41,-6.43,4,1.3],[9.41,-6.33,4,1.5],[9.62,-6.32,6,3.1],[9.66,-6.29,13,2.9],[9.64,-6.47,4,1.6],[9.58,-6.45,4,0],[9.77,-6.81,4,2.6],[9.77,-6.55,6,1],[9.78,-6.65,4,2.3],[9.80,-6.34,6,0],[9.84,-6.49,4,0],[9.74,-6.47,4,1.6],[9.97,-6.17,6,1.3],[9.95,-6.33,13,1],[10.06,-6.23,13,0],[10.13,-6.27,13,0],[10.22,-6.21,13,2.2],[10.22,-6.29,6,1.6],[10.12,-6.41,6,1.5],[10.29,-6.41,13,2.1],[10.22,-6.46,6,1.3],[10.16,-6.53,6,2.3],[10.04,-6.53,6,1.2],[9.94,-6.59,6,1.9],[10.09,-6.59,12,1.8],[10.18,-6.66,4,1.9],[10.02,-6.67,4,2.8],[10.05,-6.75,4,1.7],[9.91,-6.71,4,1.9],[9.95,-6.75,4,1.3],[9.84,-6.73,4,1.1],[9.92,-6.85,4,2.1],[10.04,-6.90,13,3.1],[9.2,-7.02,4,1.5]
];
const cells = [...capTop,...capLeft,...capRight,...capDense,...lobeUpper,...lobeLower,...neckCells,...waistUpper,...waistLower,...baseTop,...baseMiddle,...baseFoot];

const NS = "http://www.w3.org/2000/svg";
const xLeft = u => 260 + (u - 6) * 66.3;
const yLeft = v => 726.3 - v * 78.6;
const xRight = u => 1120 + (u - 4.296) * 119.4;
const yRight = v => 95 + (8.086 - v) * 84.4;
const xTickPos = t => 258 + (t - 6) * 66.4;
const yTickPos = t => 722.3 - t * 78.96;
const yBar = e => 956 - e * 103.3;

function hexToRgb(h){return [1,3,5].map(i=>parseInt(h.substr(i,2),16));}
function viridis(t){
  const c=Math.max(0,Math.min(1,t))*(viridisStops.length-1);
  const i=Math.min(Math.floor(c),viridisStops.length-2);
  const f=c-i;
  const a=hexToRgb(viridisStops[i]),b=hexToRgb(viridisStops[i+1]);
  return "rgb("+a.map((v,k)=>Math.round(v+(b[k]-v)*f)).join(",")+")";
}

const leftPanel=document.getElementById("leftPanel");
const rightPanel=document.getElementById("rightPanel");
for(const cell of cells){
  const a=document.createElementNS(NS,"circle");
  
  
  a.setAttribute("cx",xLeft(cell[0]).toFixed(1));
  a.setAttribute("cy",yLeft(cell[1]).toFixed(1));
  a.setAttribute("r","7.4");
  a.setAttribute("fill",stimColors[cell[2]]);
  leftPanel.appendChild(a);
  const b=document.createElementNS(NS,"circle");
  
  
  b.setAttribute("cx",xRight(cell[0]).toFixed(1));
  b.setAttribute("cy",yRight(cell[1]).toFixed(1));
  b.setAttribute("r","7.6");
  b.setAttribute("fill",viridis(cell[3]/irfMax));
  rightPanel.appendChild(b);
}

const axes=document.getElementById("axes");
for(const t of xTicks){
  const el=document.createElementNS(NS,"text");
  
  
  el.setAttribute("x",xTickPos(t));
  el.setAttribute("y",1414.6);
  el.setAttribute("text-anchor","middle");
  el.setAttribute("font-size","36");
  el.setAttribute("fill","#4D4D4D");
  el.textContent=t;
  axes.appendChild(el);
}
for(const t of yTicks){
  const el=document.createElementNS(NS,"text");
  
  
  el.setAttribute("x",107);
  el.setAttribute("y",yTickPos(t)+12.8);
  el.setAttribute("text-anchor","end");
  el.setAttribute("font-size","36");
  el.setAttribute("fill","#4D4D4D");
  el.textContent=t;
  axes.appendChild(el);
}

const stimLegend=document.getElementById("stimLegend");
stimLabels.forEach((label,i)=>{
  const dot=document.createElementNS(NS,"circle");
  
  
  dot.setAttribute("cx",667);
  dot.setAttribute("cy",436+i*44.98);
  dot.setAttribute("r",12);
  dot.setAttribute("fill",stimColors[i]);
  stimLegend.appendChild(dot);
  const tx=document.createElementNS(NS,"text");
  
  
  tx.setAttribute("x",725.5);
  tx.setAttribute("y",448.5+i*44.98);
  tx.setAttribute("font-size","36");
  tx.setAttribute("fill","#000");
  tx.textContent=label;
  stimLegend.appendChild(tx);
});

const grad=document.getElementById("viridisRamp");
viridisStops.forEach((c,i)=>{
  const s=document.createElementNS(NS,"stop");
  s.setAttribute("offset",i/(viridisStops.length-1));
  s.setAttribute("stop-color",c);
  grad.appendChild(s);
});
const irfLegend=document.getElementById("irfLegend");
const bar=document.createElementNS(NS,"rect");


bar.setAttribute("x",1938.5);
bar.setAttribute("y",yBar(irfMax));
bar.setAttribute("width",72);
bar.setAttribute("height",yBar(0)-yBar(irfMax));
bar.setAttribute("fill","url(#viridisRamp)");
irfLegend.appendChild(bar);
for(const t of irfTicks){
  for(const x0 of [1938.5,1996.1]){
    const tick=document.createElementNS(NS,"rect");
    
    
    tick.setAttribute("x",x0);
    tick.setAttribute("y",yBar(t)-.7);
    tick.setAttribute("width",14.4);
    tick.setAttribute("height",1.4);
    tick.setAttribute("fill","#fff");
    irfLegend.appendChild(tick);
  }
  const lab=document.createElementNS(NS,"text");
  
  
  lab.setAttribute("x",2034);
  lab.setAttribute("y",yBar(t)+13.5);
  lab.setAttribute("font-size","36");
  lab.setAttribute("fill","#000");
  lab.textContent=t;
  irfLegend.appendChild(lab);
}
</script>
</body>
</html>
